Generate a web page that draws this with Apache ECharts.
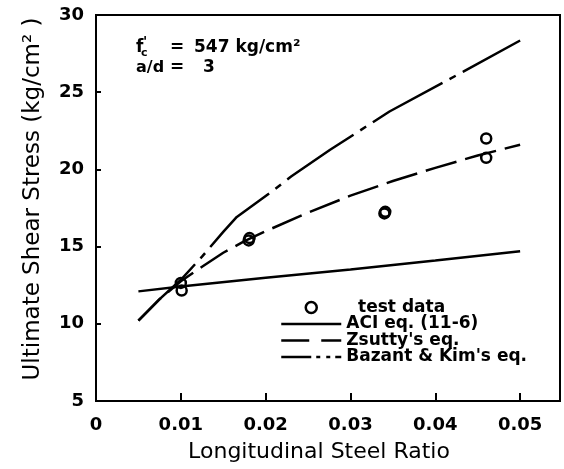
<!DOCTYPE html>
<html>
<head>
<meta charset="utf-8">
<script src="https://cdn.jsdelivr.net/npm/echarts@6/dist/echarts.min.js"></script>
<style>
html,body{margin:0;padding:0;background:#fff;}
#c{width:564px;height:469px;}
</style>
</head>
<body>
<div id="c"></div>
<script>
// ---- data ----
const xTicks = [0, 0.01, 0.02, 0.03, 0.04, 0.05];
const yTicks = [5, 10, 15, 20, 25, 30];

const testX = [0.0101, 0.0100, 0.0180, 0.0181, 0.0340, 0.0341, 0.0460, 0.0460];
const testY = [12.15, 12.65, 15.40, 15.55, 17.15, 17.25, 22.00, 20.75];

const aciX = [0.005, 0.010, 0.020, 0.030, 0.040, 0.050];
const aciY = [12.10, 12.42, 12.98, 13.52, 14.10, 14.70];

const zsuttyX = [0.005, 0.0075, 0.010, 0.0125, 0.015, 0.0175, 0.020, 0.025, 0.030, 0.035, 0.040, 0.045, 0.050];
const zsuttyY = [10.20, 11.60, 12.75, 13.70, 14.60, 15.35, 16.00, 17.20, 18.30, 19.25, 20.10, 20.90, 21.60];

const bazantX = [0.005, 0.0075, 0.010, 0.0125, 0.015, 0.0166, 0.0205, 0.023, 0.0276, 0.0346, 0.0433, 0.050];
const bazantY = [10.20, 11.60, 12.85, 14.35, 15.95, 16.92, 18.47, 19.54, 21.27, 23.75, 26.33, 28.35];

const seriesNames = ['test data', 'ACI eq. (11-6)', "Zsutty's eq.", "Bazant & Kim's eq."];

const pairs = (xs, ys) => xs.map((x, i) => [x, ys[i]]);

const chart = echarts.init(document.getElementById('c'), null, {renderer: 'canvas'});
const tickFont = {fontFamily: 'DejaVu Sans', fontWeight: 'bold', fontSize: 18, color: '#000'};
const annFont = 'bold 17px "DejaVu Sans"';
const hiddenDot = {color: 'rgba(0,0,0,0)', borderColor: 'rgba(0,0,0,0)', borderWidth: 0};

chart.setOption({
  animation: false,
  backgroundColor: '#fff',
  grid: {left: 96, right: 4, top: 15, bottom: 68, show: true, borderColor: '#000', borderWidth: 2, backgroundColor: 'transparent'},
  xAxis: {
    type: 'value', min: xTicks[0], max: 0.0547, interval: 0.01,
    axisLine: {show: true, lineStyle: {color: '#000', width: 2}},
    axisTick: {show: true, inside: true, length: 8, lineStyle: {color: '#000', width: 2}},
    splitLine: {show: false},
    axisLabel: Object.assign({margin: 15, showMaxLabel: false,
      formatter: v => (xTicks.some(t => Math.abs(t - v) < 1e-9) ? String(+v.toFixed(2)) : '')}, tickFont)
  },
  yAxis: {
    type: 'value', min: yTicks[0], max: yTicks[yTicks.length - 1], interval: 5,
    axisLine: {show: true, lineStyle: {color: '#000', width: 2}},
    axisTick: {show: true, inside: true, length: 5, lineStyle: {color: '#000', width: 2}},
    splitLine: {show: false},
    axisLabel: Object.assign({margin: 12}, tickFont)
  },
  legend: {
    left: 280, top: 299, orient: 'vertical', padding: 0,
    itemWidth: 60, itemHeight: 11, itemGap: -0.5, itemTextGap: 7,
    textStyle: {fontFamily: 'DejaVu Sans', fontWeight: 'bold', fontSize: 17, color: '#000'},
    formatter: n => (n === seriesNames[0] ? '  ' + n : n),
    data: [
      {name: seriesNames[0], itemStyle: {color: 'rgba(255,255,255,0)', borderColor: '#000', borderWidth: 2.5, opacity: 1}},
      {name: seriesNames[1], itemStyle: hiddenDot, lineStyle: {type: 'solid', width: 2.5, color: '#000'}},
      {name: seriesNames[2], itemStyle: hiddenDot, lineStyle: {type: [28, 12], width: 2.5, color: '#000'}},
      {name: seriesNames[3], itemStyle: hiddenDot, lineStyle: {type: [30, 5, 4, 6, 4, 5], width: 2.5, color: '#000'}}
    ]
  },
  series: [
    {
      name: seriesNames[0], type: 'scatter', data: pairs(testX, testY), symbol: 'circle', symbolSize: 10, z: 5,
      itemStyle: {color: 'rgba(255,255,255,0)', borderColor: '#000', borderWidth: 2.5, opacity: 1}
    },
    {
      name: seriesNames[1], type: 'line', data: pairs(aciX, aciY), symbol: 'none', showSymbol: false,
      lineStyle: {color: '#000', width: 2.5, type: 'solid'}, itemStyle: {color: '#000'}
    },
    {
      name: seriesNames[2], type: 'line', data: pairs(zsuttyX, zsuttyY), symbol: 'none', showSymbol: false,
      lineStyle: {color: '#000', width: 2.5, type: [32, 9]}, itemStyle: {color: '#000'}
    },
    {
      name: seriesNames[3], type: 'line', data: pairs(bazantX, bazantY), symbol: 'none', showSymbol: false,
      lineStyle: {color: '#000', width: 2.5, type: [80, 8, 7, 8]}, itemStyle: {color: '#000'}
    }
  ],
  graphic: [
    {type: 'text', x: 33, y: 199, rotation: Math.PI / 2,
      style: {text: 'Ultimate Shear Stress (kg/cm² )', font: '23px "DejaVu Sans"', fill: '#000', align: 'center', verticalAlign: 'middle'}},
    {type: 'text', x: 319, y: 452,
      style: {text: 'Longitudinal Steel Ratio', font: '22px "DejaVu Sans"', fill: '#000', align: 'center', verticalAlign: 'middle'}},
    {type: 'text', x: 136, y: 48, style: {text: 'f', font: annFont, fill: '#000', align: 'left', verticalAlign: 'middle'}},
    {type: 'text', x: 141, y: 53, style: {text: 'c', font: 'bold 11px "DejaVu Sans"', fill: '#000', align: 'left', verticalAlign: 'middle'}},
    {type: 'text', x: 143, y: 42, style: {text: "'", font: 'bold 14px "DejaVu Sans"', fill: '#000', align: 'left', verticalAlign: 'middle'}},
    {type: 'text', x: 170, y: 48, style: {text: '=', font: annFont, fill: '#000', align: 'left', verticalAlign: 'middle'}},
    {type: 'text', x: 194, y: 48, style: {text: '547 kg/cm²', font: annFont, fill: '#000', align: 'left', verticalAlign: 'middle'}},
    {type: 'text', x: 136, y: 68, style: {text: 'a/d', font: 'bold 16px "DejaVu Sans"', fill: '#000', align: 'left', verticalAlign: 'middle'}},
    {type: 'text', x: 170, y: 68, style: {text: '=', font: annFont, fill: '#000', align: 'left', verticalAlign: 'middle'}},
    {type: 'text', x: 203, y: 68, style: {text: '3', font: annFont, fill: '#000', align: 'left', verticalAlign: 'middle'}}
  ]
});
</script>
</body>
</html>
